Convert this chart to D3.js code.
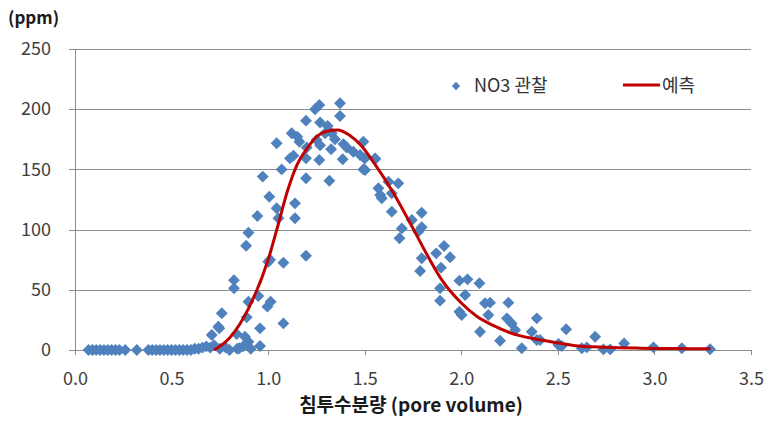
<!DOCTYPE html>
<html><head><meta charset="utf-8">
<script src="https://cdn.jsdelivr.net/npm/d3@7"></script>
<style>body{margin:0;background:#fff;}svg{display:block;}</style>
</head><body>
<svg id="c" width="769" height="422"></svg>
<script>
const xTicks = [0, 0.5, 1.0, 1.5, 2.0, 2.5, 3.0, 3.5];
const yTicks = [0, 50, 100, 150, 200, 250];
const seriesNames = ["NO3 관찰", "예측"];
const yUnit = "(ppm)";
const xTitle = "침투수분량 (pore volume)";

const obsX = [0.07,0.09,0.11,0.13,0.15,0.17,0.19,0.21,0.23,0.26,0.32,0.38,0.40,0.42,0.44,0.46,0.48,0.50,0.52,0.54,0.56,0.58,0.60,0.62,0.64,0.66,0.68,0.70,0.72,0.75,0.78,0.80,0.84,0.87,0.91,
0.708,0.742,0.747,0.760,0.823,0.823,0.837,0.851,0.880,0.886,0.889,0.898,0.898,0.898,0.944,0.949,0.958,0.958,0.972,0.996,1.001,1.006,1.01,1.013,1.044,1.044,1.053,1.070,1.079,1.079,1.113,1.122,1.131,1.139,1.139,1.151,1.162,1.196,1.196,1.196,1.196,1.200,1.243,1.251,1.265,1.265,1.269,1.269,1.295,1.308,1.317,1.326,1.329,1.346,1.372,1.372,1.386,1.390,1.407,1.441,1.476,1.493,1.493,1.500,1.502,1.554,1.554,
1.571,1.580,1.588,1.623,1.640,1.640,1.674,1.680,1.692,1.744,1.778,1.787,1.795,1.795,1.795,1.870,1.890,1.890,1.895,1.911,1.942,1.990,1.990,2.002,2.020,2.032,2.094,2.097,2.123,2.140,2.149,2.201,2.236,2.244,2.261,2.279,2.313,2.365,2.391,2.391,2.408,2.503,2.503,2.520,2.543,2.624,2.650,2.693,2.736,2.771,2.843,2.995,3.142,3.288];
const obsY = [0,0,0,0,0,0,0,0,0,0,0,0,0,0,0,0,0,0,0,0,0,0,0,1,1,2,3,2,4,1,2,0,1,3,1,
12.5,19.4,18,30.5,58,51.2,13.3,1.4,11,86.6,27.1,97.4,40.1,6.9,111.3,44.8,18,3.3,144,36,73.3,127.3,75,40.1,171.7,117.7,109.4,150,72.5,22.1,159.2,180,161.4,121.8,109.4,177.2,173,78.3,190.5,159.2,142.6,168.2,200,174.4,203.5,157.8,189,170,180,186,140.6,166.7,180,175,204.9,194.4,158.4,171,168.2,164.7,162,173,150,159,149.5,159.2,158.4,
134.3,128.7,126,139.8,130.1,114.9,138.4,92.8,101,108,98.3,65.6,114,101.9,76.2,80.3,51.2,41,68.4,86.4,77,57.6,31.8,29.1,45.7,58.7,55.4,15.2,38.8,29.1,39.3,7.7,26.3,39.3,22.1,16.6,1.4,15.2,26.3,8.3,8.3,5,4.2,3.3,17.2,1.4,2.2,11,0.5,0.5,5.5,2.2,1.4,0.6];

const predX = [0.72,0.80,0.90,1.00,1.05,1.10,1.15,1.20,1.25,1.30,1.36,1.42,1.48,1.55,1.65,1.75,1.82,1.90,2.00,2.08,2.17,2.25,2.37,2.48,2.58,2.75,2.93,3.10,3.29];
const predY = [0,10,35,75,103,132,154,167,177,181.5,182.7,178.5,170,155,130,101,80,58,39,28,20,14.5,9.5,6.5,3.8,2.2,1.5,1.2,1.0];

const svg = d3.select("#c");
const font = "'Noto Sans CJK KR','Noto Sans',sans-serif";
const L = 75, R = 751, T = 49, B = 350;
const x = d3.scaleLinear().domain([0, 3.5]).range([L, R]);
const y = d3.scaleLinear().domain([0, 250]).range([B, T]);

// gridlines + y axis
const yAxis = d3.axisLeft(y).tickValues(yTicks).tickSize(-(R - L)).tickSizeOuter(0).tickFormat(d3.format("d"));
const gy = svg.append("g").attr("transform", `translate(${L},0)`).call(yAxis);
gy.select(".domain").remove();
gy.selectAll(".tick line").attr("x1", -6).attr("stroke", "#8c8c8c").attr("shape-rendering", "crispEdges");
gy.selectAll(".tick text").attr("font-family", font).attr("font-size", 18).attr("fill", "#404040").attr("x", -24);
svg.append("line").attr("x1", L).attr("x2", L).attr("y1", T).attr("y2", B).attr("stroke", "#8c8c8c").attr("shape-rendering", "crispEdges");

// x axis
const xAxis = d3.axisBottom(x).tickValues(xTicks).tickSize(5).tickSizeOuter(0).tickPadding(17).tickFormat(d3.format(".1f"));
const gx = svg.append("g").attr("transform", `translate(0,${B})`).call(xAxis);
gx.select(".domain").attr("stroke", "#8c8c8c").attr("shape-rendering", "crispEdges");
gx.selectAll(".tick line").attr("stroke", "#8c8c8c").attr("shape-rendering", "crispEdges");
gx.selectAll(".tick text").attr("font-family", font).attr("font-size", 18).attr("fill", "#404040");

// observations
const diamond = d3.symbol().type(d3.symbolDiamond2).size(90);
svg.append("g").selectAll("path").data(obsX.map((d, i) => [d, obsY[i]])).join("path")
  .attr("d", diamond)
  .attr("transform", d => `translate(${x(d[0])},${y(d[1])})`)
  .attr("fill", "#4f81bd");

// prediction
const line = d3.line().x(d => x(d[0])).y(d => y(d[1])).curve(d3.curveMonotoneX);
svg.append("path").datum(predX.map((d, i) => [d, predY[i]]))
  .attr("d", line).attr("fill", "none").attr("stroke", "#c00000").attr("stroke-width", 3);

// labels
svg.append("text").attr("x", 8).attr("y", 24).text(yUnit)
  .attr("font-family", font).attr("font-size", 17).attr("font-weight", "bold").attr("fill", "#1a1a1a");
svg.append("text").attr("x", 411).attr("y", 412).attr("text-anchor", "middle").text(xTitle)
  .attr("font-family", font).attr("font-size", 19).attr("font-weight", "bold").attr("fill", "#1a1a1a");

// legend
const lg = svg.append("g");
lg.append("path").attr("d", d3.symbol().type(d3.symbolDiamond2).size(45)).attr("transform", "translate(456,86)").attr("fill", "#4f81bd");
lg.append("text").attr("x", 474).attr("y", 92).text(seriesNames[0]).attr("font-family", font).attr("font-size", 18).attr("fill", "#333");
lg.append("line").attr("x1", 623).attr("x2", 660).attr("y1", 85).attr("y2", 85).attr("stroke", "#c00000").attr("stroke-width", 3);
lg.append("text").attr("x", 662).attr("y", 92).text(seriesNames[1]).attr("font-family", font).attr("font-size", 18).attr("fill", "#333");
</script>
</body></html>
